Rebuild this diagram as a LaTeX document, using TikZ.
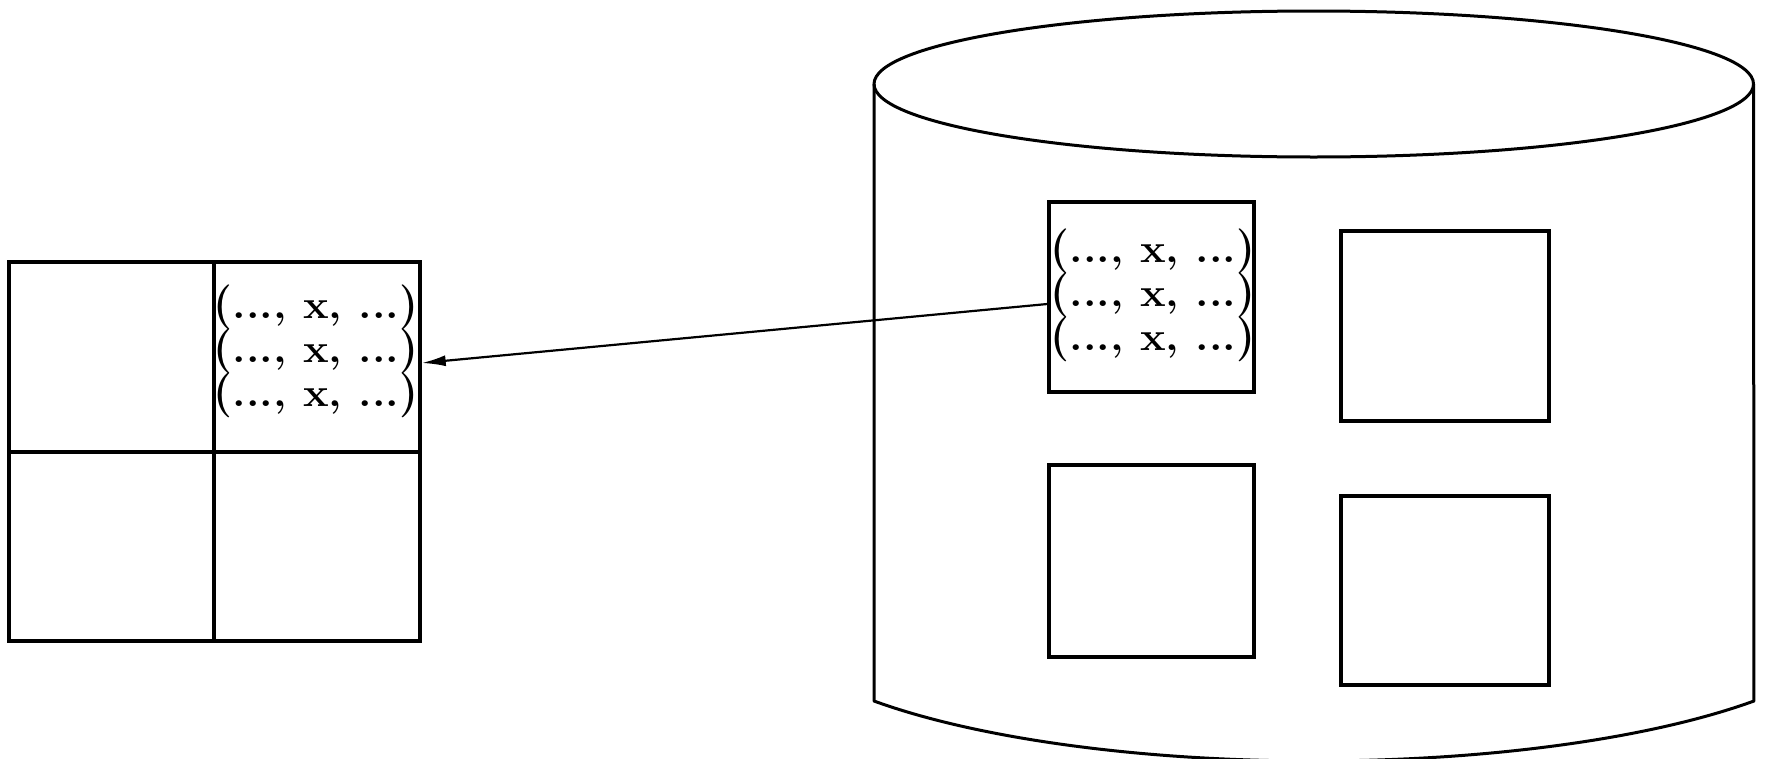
\documentclass[tikz,border=0pt]{standalone}
\usetikzlibrary{arrows.meta,calc}
\tikzset{
  boxline/.style={draw, line width=3.4pt, inner sep=0pt},
  cell/.style={boxline, minimum width=205pt, minimum height=190pt},
  cylline/.style={draw, line width=3pt, line join=round},
  tuple/.style={inner sep=0pt, anchor=base, font=\fontsize{40}{44}\bfseries\selectfont},
  link/.style={line width=2.2pt, -{Latex[length=24pt,width=11pt]}}
}
\newcommand{\tup}{\scalebox{1.08}[1]{\scalebox{1}[1.12]{(}..., x, ...\scalebox{1}[1.12]{)}}}
\begin{document}
\begin{tikzpicture}[x=1pt,y=-1pt]
\useasboundingbox (0,0) rectangle (1767,758);
% cylinder
\draw[cylline, fill=white] (874,84) -- (874,701)
  arc[start angle=216.87, end angle=323.13, x radius=550pt, y radius=150pt]
  -- (1753.5,84);
\draw[cylline] (1313.75,84) ellipse [x radius=439.75pt, y radius=73pt];
% left grid
\node[cell, minimum width=205pt, minimum height=190pt] (gtl) at (111.5,357) {};
\node[cell, minimum width=206pt, minimum height=190pt] (gtr) at (317,357) {};
\node[cell, minimum width=205pt, minimum height=189pt] (gbl) at (111.5,546.5) {};
\node[cell, minimum width=206pt, minimum height=189pt] (gbr) at (317,546.5) {};
% boxes in cylinder
\node[cell, minimum width=205pt, minimum height=190pt] (rbox) at (1151.5,297) {};
\node[cell, minimum width=208pt, minimum height=190pt] (box2) at (1445,326) {};
\node[cell, minimum width=205pt, minimum height=192pt] (box3) at (1151.5,561) {};
\node[cell, minimum width=208pt, minimum height=189pt] (box4) at (1445,590.5) {};
% tuples
\node[tuple] (la) at (316,318) {\tup};
\node[tuple] (lb) at (316,362) {\tup};
\node[tuple] (lc) at (316,406) {\tup};
\node[tuple] (ra) at (1153,262) {\tup};
\node[tuple] (rb) at (1153,306) {\tup};
\node[tuple] (rc) at (1153,350) {\tup};
% arrow
\draw[link] ($(rbox.west)+(0,7)$) -- ($(gtr.east)+(0,6)$);
\end{tikzpicture}
\end{document}
